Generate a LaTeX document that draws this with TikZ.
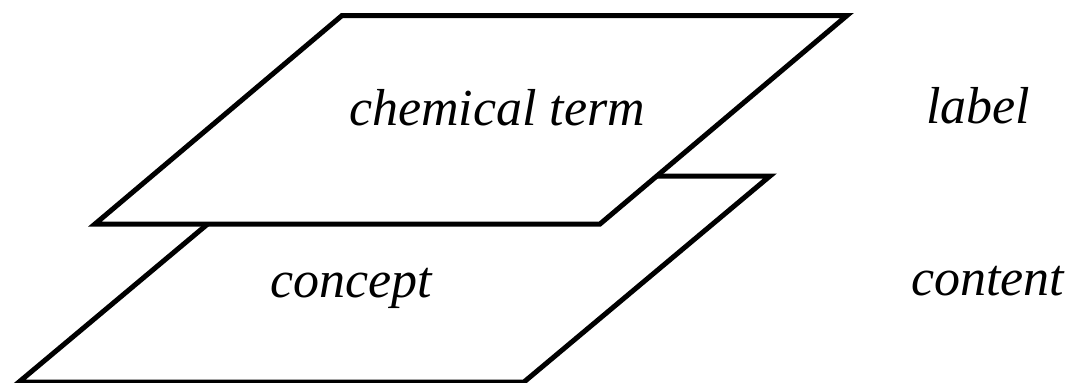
\documentclass[tikz,border=0pt]{standalone}
\usepackage{fontspec}
\setmainfont{Liberation Serif}
\begin{document}
\begin{tikzpicture}[x=1pt,y=-1pt,
  plane/.style={draw=black,fill=white,line width=5pt,line join=miter},
  word/.style={anchor=base west,inner sep=0pt,font=\fontsize{52}{60}\selectfont\itshape}]
\useasboundingbox (0,0) rectangle (1069,383);
% lower plane (content)
\draw[plane] (19,382) -- (524,382) -- (770,176) -- (265,176) -- cycle;
% upper plane (label)
\draw[plane] (95,224) -- (600,224) -- (847,15.5) -- (342,15.5) -- cycle;
\node[word] (term) at (349,125) {chemical term};
\node[word] (concept) at (270,297) {concept};
\node[word] (label) at (926,123) {label};
\node[word] (content) at (911,295) {content};
\end{tikzpicture}
\end{document}
